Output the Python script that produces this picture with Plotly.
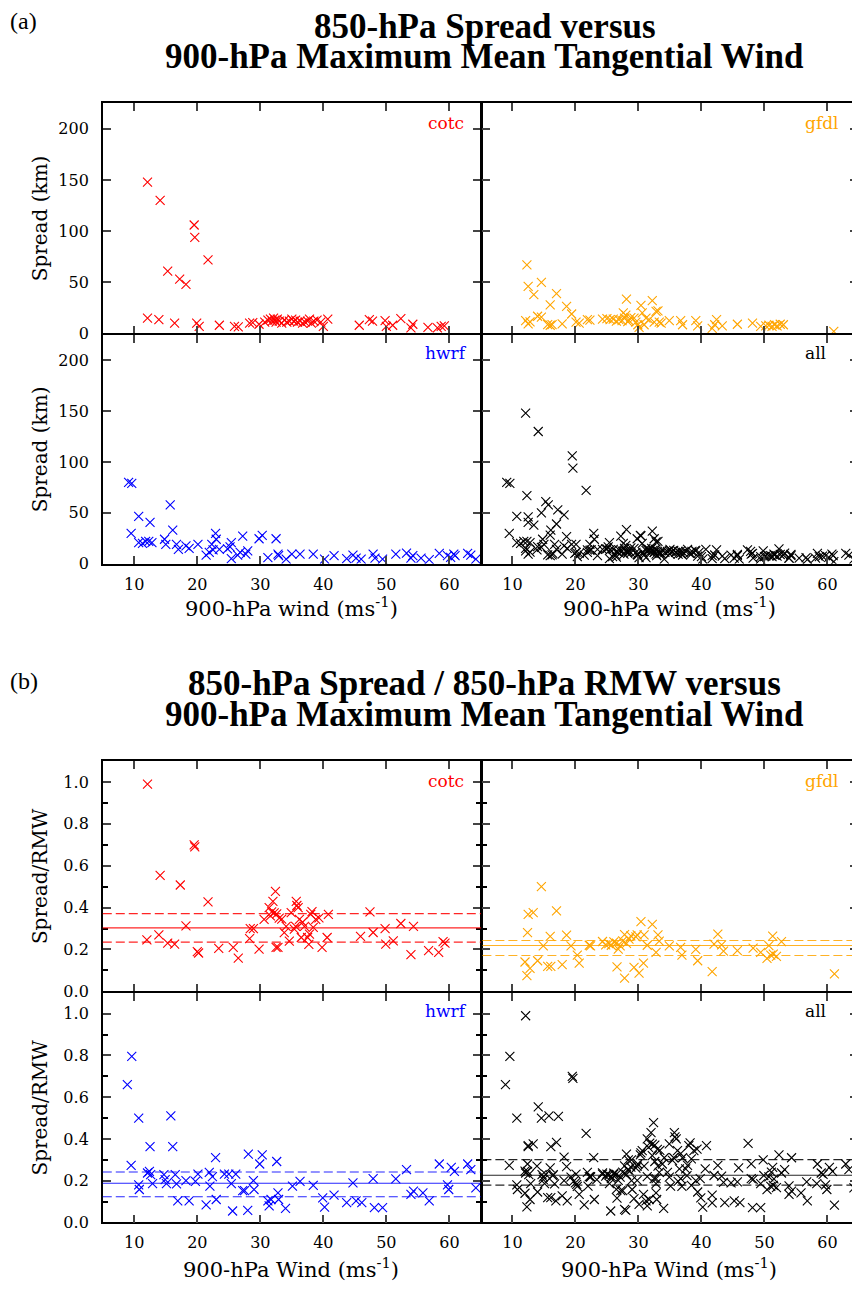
import plotly.graph_objects as go

# ---------------- data ----------------
# (a) 850-hPa spread (km) vs 900-hPa max mean tangential wind (m/s)
cotc_wind_a = [12.1, 14.1, 15.3, 17.2, 18.2, 19.5, 19.6, 21.7,
               12.1, 13.9, 16.4, 19.9, 20.3, 23.5, 25.9, 26.5, 28.3, 28.8, 29.8,
               30.7, 31.2, 31.6, 31.9, 32.1, 32.3, 32.5, 32.7, 33.0, 33.4, 33.8, 34.2, 34.6, 35.0,
               35.3, 35.6, 35.9, 36.3, 36.7, 37.1, 37.5, 37.8, 38.1, 38.5, 39.0, 39.6, 40.0, 40.7,
               45.7, 47.3, 47.8, 49.8, 50.0, 51.0, 52.3, 53.9, 54.2, 56.6, 58.1, 58.7, 59.2]
cotc_spread = [148, 130, 61, 53, 48, 106, 94, 72,
               15, 13.5, 10, 10, 7, 8, 7, 6.5, 10, 10.5, 9,
               11, 13, 14, 12, 15, 13, 11, 14, 12, 10, 13, 11, 12, 14,
               12, 13, 11, 12, 10, 11, 12, 14, 10, 12, 13, 11, 7, 14,
               8, 13.5, 12, 12.5, 7, 8, 14.5, 5.5, 9, 6, 5.5, 7, 7.5]

gfdl_wind_a = [12.3, 12.5, 13.4, 14.6, 16.0, 17.0, 18.6, 19.4,
               12.1, 12.5, 12.8, 14.0, 14.6, 15.6, 16.0, 16.3, 17.9, 20.1, 20.6, 21.9, 22.3,
               24.3, 25.0, 25.5, 26.0, 26.5, 26.9, 27.4, 27.6, 28.0, 27.8, 28.1, 28.3, 28.5, 28.8,
               29.3, 29.6, 29.9, 30.1, 30.4, 30.6, 30.9, 31.2, 31.7, 32.2, 32.5, 32.8, 33.1, 33.3, 33.6,
               34.9, 36.7, 37.0, 39.1, 39.4,
               41.7, 42.1, 42.4, 43.3,
               45.7, 48.1, 49.4, 50.2, 50.7, 51.2, 51.6, 52.0, 52.5, 53.0,
               61.0]
gfdl_spread = [67, 46, 38, 50, 28, 39, 26.5, 19,
               12.6, 9.4, 11.3, 16.8, 16, 8.7, 8, 8.7, 9.4, 11, 10, 13.5, 13,
               14, 14.5, 13.5, 14, 12, 13.5, 12.5, 20, 18, 15, 33.5, 11.5, 12.5, 15.5,
               15, 11, 8.5, 6, 27.4, 20, 8.5, 15, 13.5, 32, 11, 21.5, 22, 11, 10,
               12.5, 12.5, 8.5, 12.5, 7.5,
               5, 8.5, 13.5, 7.5,
               9, 10, 7, 7.5, 8, 7, 8.5, 7.5, 9, 8.5,
               2]

hwrf_wind_a = [9.1, 9.6, 10.7, 12.5, 15.7, 9.5, 10.7, 11.3, 11.8, 12.3,
               12.8, 14.8, 15.0, 16.1, 16.7, 17.0, 18.2, 18.7, 20.1, 21.4,
               21.9, 22.3, 22.5, 22.9, 23.0, 23.5, 24.8, 25.2, 25.4, 25.4,
               26.4, 26.8, 27.2, 27.7, 28.0, 29.8, 30.3, 31.2, 32.5, 32.8,
               32.9, 34.1, 35.0, 36.3, 38.4, 40.2, 41.7, 43.7, 44.7, 45.2,
               46.0, 47.9, 48.2, 49.4, 51.5, 53.2, 53.9, 54.2, 55.5, 56.8,
               58.4, 59.7, 60.2, 60.7, 60.9, 62.9, 63.4, 64.2]
hwrf_spread = [80, 79, 46.5, 40.7, 57.8, 29.7, 20.7, 20, 22, 22,
               20.7, 24, 19, 33, 19, 14, 17.5, 15, 19, 8.4,
               11, 19, 13.6, 29.7, 24, 14, 14.5, 16.5, 5, 20.7,
               8.4, 11, 27, 9.4, 12.6, 24.5, 27.8, 6, 24.5, 9.4,
               7.8, 4.5, 9.4, 9.4, 9.4, 4.5, 7.8, 5, 8.4, 5.5,
               4.5, 9.4, 5.5, 4.5, 9.4, 10.3, 5.5, 7.8, 5.5, 4,
               10, 7.8, 6.1, 9.4, 7.8, 10, 8.4, 4.5]

# (b) 850-hPa spread / 850-hPa RMW vs 900-hPa wind
cotc_wind_b = [12.1, 14.1, 17.3, 19.5, 19.6, 21.7, 18.2, 12.0, 13.9, 15.3, 16.4, 20.0, 20.2, 23.4,
               25.7, 26.5, 28.3, 28.4, 28.9, 29.8, 30.6, 31.4, 31.8, 32.0, 32.4, 32.6, 31.6, 32.2,
               32.5, 32.8, 33.0, 33.4, 33.8, 34.1, 34.6, 34.9, 35.4, 35.6, 35.7, 35.8, 36.0, 36.2,
               36.5, 36.7, 37.0, 37.5, 37.7, 37.8, 38.0, 38.2, 38.4, 38.8, 39.3, 39.8, 40.6, 40.8,
               45.9, 47.4, 47.9, 49.8, 49.9, 51.1, 52.3, 53.9, 54.3, 56.7, 58.3, 59.0, 59.3]
cotc_ratio = [0.99, 0.554, 0.508, 0.70, 0.69, 0.427, 0.313, 0.246, 0.27, 0.23, 0.225, 0.19, 0.183, 0.205,
              0.21, 0.159, 0.252, 0.30, 0.30, 0.202, 0.344, 0.40, 0.38, 0.43, 0.478, 0.37, 0.36, 0.375,
              0.21, 0.21, 0.35, 0.345, 0.28, 0.31, 0.24, 0.376, 0.297, 0.31, 0.43, 0.41, 0.40, 0.344,
              0.257, 0.33, 0.31, 0.257, 0.224, 0.273, 0.368, 0.381, 0.305, 0.344, 0.351, 0.21, 0.257, 0.368,
              0.262, 0.379, 0.281, 0.30, 0.225, 0.241, 0.324, 0.175, 0.31, 0.194, 0.186, 0.237, 0.23]

gfdl_wind_b = [12.3, 12.0, 12.8, 12.4, 12.5, 13.3, 14.0, 14.6, 14.9, 15.6, 16.1, 16.0, 17.0, 17.9,
               18.6, 19.3, 20.3, 20.6, 22.2, 22.4,
               24.3, 24.8, 25.3, 25.7, 26.1, 26.5, 26.8, 26.6, 27.1, 27.5,
               27.8, 28.1, 28.5, 28.8, 27.8, 29.3, 29.6, 29.8, 30.1, 30.4,
               30.8, 30.9, 31.4, 32.2, 32.8, 33.1, 33.3, 34.9, 36.7, 36.9,
               39.1, 39.4, 41.7, 42.0, 42.6, 43.2, 43.5, 45.7, 48.2, 49.4,
               50.4, 50.7, 51.0, 51.3, 51.4, 51.9, 52.7, 61.1]
gfdl_ratio = [0.075, 0.14, 0.11, 0.28, 0.368, 0.376, 0.146, 0.5, 0.217, 0.119, 0.119, 0.262, 0.384, 0.127,
              0.268, 0.217, 0.173, 0.135, 0.22, 0.217,
              0.238, 0.222, 0.228, 0.22, 0.236, 0.23, 0.202, 0.117, 0.217, 0.241,
              0.271, 0.229, 0.249, 0.265, 0.063, 0.114, 0.26, 0.27, 0.087, 0.333,
              0.135, 0.27, 0.22, 0.32, 0.186, 0.27, 0.24, 0.217, 0.21, 0.173,
              0.2, 0.146, 0.094, 0.225, 0.273, 0.222, 0.192, 0.194, 0.206, 0.186,
              0.157, 0.218, 0.173, 0.264, 0.178, 0.167, 0.237, 0.083]

hwrf_wind_b = [8.9, 9.6, 10.7, 12.5, 15.8, 16.1, 9.5, 10.7, 10.8, 12.1,
               12.4, 12.6, 12.9, 14.7, 14.9, 15.1, 16.5, 16.7, 16.9, 18.2,
               18.7, 19.7, 20.1, 21.4, 21.9, 22.0, 22.4, 22.9, 23.0, 24.3,
               25.0, 25.4, 25.6, 26.1, 27.2, 27.5, 28.0, 28.1, 28.9, 29.0,
               29.9, 30.3, 31.2, 31.4, 31.7, 32.6, 32.8, 32.9, 34.0, 35.1,
               36.3, 38.4, 39.9, 40.2, 41.7, 43.7, 44.7, 45.2, 46.1, 47.9,
               48.1, 49.4, 51.5, 53.2, 53.9, 54.3, 55.8, 56.8, 58.4, 59.7,
               59.9, 60.3, 60.8, 62.9, 63.4, 64.2]
hwrf_ratio = [0.66, 0.795, 0.50, 0.363, 0.51, 0.363, 0.273, 0.18, 0.158, 0.237,
              0.245, 0.229, 0.186, 0.229, 0.205, 0.186, 0.229, 0.185, 0.103, 0.2,
              0.103, 0.197, 0.232, 0.084, 0.24, 0.174, 0.22, 0.311, 0.11, 0.232,
              0.232, 0.186, 0.055, 0.232, 0.153, 0.153, 0.058, 0.327, 0.2, 0.158,
              0.28, 0.324, 0.103, 0.079, 0.11, 0.292, 0.142, 0.11, 0.068, 0.174,
              0.197, 0.178, 0.118, 0.074, 0.131, 0.095, 0.19, 0.103, 0.095, 0.21,
              0.071, 0.071, 0.209, 0.253, 0.135, 0.15, 0.142, 0.103, 0.28, 0.18,
              0.158, 0.264, 0.245, 0.28, 0.253, 0.166]

# reference lines in (b): [centre (solid), upper (dashed), lower (dashed)]
cotc_lines = [0.303, 0.371, 0.235]
gfdl_lines = [0.219, 0.243, 0.171]
hwrf_lines = [0.188, 0.242, 0.123]
all_lines = [0.226, 0.301, 0.179]

model_names = ["cotc", "gfdl", "hwrf", "all"]
x_ticks = [10, 20, 30, 40, 50, 60]
spread_ticks = [0, 50, 100, 150, 200]
ratio_ticks = [0.0, 0.2, 0.4, 0.6, 0.8, 1.0]
ratio_minor = [0.1, 0.3, 0.5, 0.7, 0.9]

# ---------------- figure ----------------
# the page body keeps an 8 px margin, so the figure is made 8 px smaller and
# every page position below is converted with that offset
OFF = 8
W, H = 860 - OFF, 1294 - OFF
SERIF = "DejaVu Serif"
TITLE_FONT = "Liberation Serif"
LW = 1.5
colors = {"cotc": "#ff0000", "gfdl": "#ffa500", "hwrf": "#0000ff", "all": "#000000"}

all_wind_a = cotc_wind_a + gfdl_wind_a + hwrf_wind_a
all_spread = cotc_spread + gfdl_spread + hwrf_spread
all_wind_b = cotc_wind_b + gfdl_wind_b + hwrf_wind_b
all_ratio = cotc_ratio + gfdl_ratio + hwrf_ratio

data_a = {"cotc": (cotc_wind_a, cotc_spread), "gfdl": (gfdl_wind_a, gfdl_spread),
          "hwrf": (hwrf_wind_a, hwrf_spread), "all": (all_wind_a, all_spread)}
data_b = {"cotc": (cotc_wind_b, cotc_ratio), "gfdl": (gfdl_wind_b, gfdl_ratio),
          "hwrf": (hwrf_wind_b, hwrf_ratio), "all": (all_wind_b, all_ratio)}
lines_b = {"cotc": cotc_lines, "gfdl": gfdl_lines, "hwrf": hwrf_lines, "all": all_lines}

fig = go.Figure()


def fx(p):
    return (p - OFF) / W


def fy(p):
    return 1 - (p - OFF) / H


XL, XM, XR = 103, 482, 860
rows_px = {"a": (104, 336, 568), "b": (767, 999, 1232)}
label_pos = {"cotc": 467, "gfdl": 843, "hwrf": 470, "all": 830}
PX_PER_UNIT = (XM - XL) / 60.0

layout = dict(
    width=W, height=H, margin=dict(l=0, r=0, t=0, b=0),
    paper_bgcolor="white", plot_bgcolor="white", showlegend=False,
    font=dict(family=SERIF, color="black"),
)
annotations = []
shapes = []

idx = 0
for part in ["a", "b"]:
    top, mid, bot = rows_px[part]
    for k, m in enumerate(model_names):
        idx += 1
        r, c = divmod(k, 2)
        # shared borders: shift the second panel so both axis lines coincide
        x0, x1 = (XL, XM) if c == 0 else (XM + LW, XR)
        y0, y1 = (top, mid) if r == 0 else (mid + LW, bot)
        if c == 0:
            xr = [5, 65]
        else:
            xr = [5 + LW / PX_PER_UNIT, 5 + (XR - XM) / PX_PER_UNIT]
        xa = dict(domain=[fx(x0), fx(x1)], anchor=f"y{idx}", range=xr,
                  tickvals=x_ticks, ticks="inside", ticklen=8, tickwidth=LW,
                  showline=True, linewidth=LW, linecolor="black", mirror="ticks",
                  showgrid=False, zeroline=False, showticklabels=(r == 1),
                  tickfont=dict(family=SERIF, size=16, color="black"),
                  ticklabelstandoff=5)
        if part == "a":
            ya = dict(range=[0, 225], tickvals=spread_ticks)
        else:
            ya = dict(range=[0, 1.1], tickvals=ratio_ticks, tickformat=".1f",
                      minor=dict(tickvals=ratio_minor, ticks="inside", ticklen=5,
                                 tickwidth=LW, tickcolor="black"))
        ya.update(domain=[fy(y1), fy(y0)], anchor=f"x{idx}", ticks="inside", ticklen=8,
                  tickwidth=LW, showline=True, linewidth=LW, linecolor="black",
                  mirror="ticks", showgrid=False, zeroline=False,
                  showticklabels=(c == 0),
                  tickfont=dict(family=SERIF, size=16, color="black"),
                  ticklabelstandoff=9)
        layout[f"xaxis{idx}"] = xa
        layout[f"yaxis{idx}"] = ya

        xs, ys = (data_a if part == "a" else data_b)[m]
        fig.add_trace(go.Scatter(
            x=xs, y=ys, mode="markers", xaxis=f"x{idx}", yaxis=f"y{idx}",
            marker=dict(symbol="x-thin", size=9,
                        line=dict(width=1.1, color=colors[m]), color=colors[m]),
            hoverinfo="skip"))

        if part == "b":
            centre, upper, lower = lines_b[m]
            for val, dash in [(centre, "solid"), (upper, "9px,4px"), (lower, "9px,4px")]:
                shapes.append(dict(type="line", xref=f"x{idx} domain", yref=f"y{idx}",
                                   x0=0, x1=1, y0=val, y1=val,
                                   line=dict(color=colors[m], width=1.1, dash=dash),
                                   opacity=0.85))

        # model label
        ly = top + 20 if r == 0 else mid + 20
        annotations.append(dict(text=m, x=fx(label_pos[m]), y=fy(ly), xref="paper",
                                yref="paper", xanchor="right", yanchor="middle",
                                showarrow=False,
                                font=dict(family=SERIF, size=17, color=colors[m])))

        # y axis title
        if c == 0:
            annotations.append(dict(text="Spread (km)" if part == "a" else "Spread/RMW",
                                    x=fx(40), y=fy((y0 + y1) / 2), xref="paper",
                                    yref="paper", textangle=-90, showarrow=False,
                                    xanchor="center", yanchor="middle",
                                    font=dict(family=SERIF, size=20, color="black")))
        # x axis title
        if r == 1:
            xt = "900-hPa wind (ms<sup>-1</sup>)" if part == "a" else "900-hPa Wind (ms<sup>-1</sup>)"
            annotations.append(dict(text=xt, x=fx(292 if c == 0 else 671),
                                    y=fy(612 if part == "a" else 1278),
                                    xref="paper", yref="paper", showarrow=False,
                                    xanchor="center", yanchor="middle",
                                    font=dict(family=SERIF, size=21, color="black")))

# titles
title_lines = {
    "a": [("850-hPa Spread versus", 27), ("900-hPa Maximum Mean Tangential Wind", 57)],
    "b": [("850-hPa Spread / 850-hPa RMW versus", 689), ("900-hPa Maximum Mean Tangential Wind", 720)],
}
tag_y = {"a": 21, "b": 686}
for part in ["a", "b"]:
    annotations.append(dict(text=f"({part})", x=fx(8), y=fy(tag_y[part]), xref="paper",
                            yref="paper", xanchor="left", yanchor="middle", showarrow=False,
                            font=dict(family=TITLE_FONT, size=24, color="black")))
    for text, yp in title_lines[part]:
        annotations.append(dict(text=f"<b>{text}</b>", x=fx(486), y=fy(yp), xref="paper",
                                yref="paper", xanchor="center", yanchor="middle",
                                showarrow=False,
                                font=dict(family=TITLE_FONT, size=35, color="black")))

layout["annotations"] = annotations
layout["shapes"] = shapes
fig.update_layout(**layout)
fig.write_html("out.html")
